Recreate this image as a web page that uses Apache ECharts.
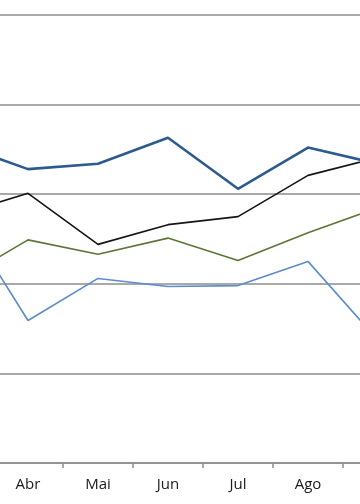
<!DOCTYPE html>
<html>
<head>
<meta charset="utf-8">
<script src="https://cdn.jsdelivr.net/npm/echarts@6/dist/echarts.min.js"></script>
<style>html,body{margin:0;padding:0;background:#fff;}#c{width:360px;height:504px;}</style>
</head>
<body>
<div id="c"></div>
<script>
var categories = ['Mar', 'Abr', 'Mai', 'Jun', 'Jul', 'Ago', 'Set'];
var seriesDarkBlue = [3.56, 3.28, 3.34, 3.63, 3.06, 3.52, 3.34];
var seriesBlack = [2.77, 3.01, 2.44, 2.66, 2.75, 3.21, 3.41];
var seriesGreen = [2.03, 2.49, 2.33, 2.51, 2.26, 2.57, 2.85];
var seriesLightBlue = [2.84, 1.59, 2.06, 1.97, 1.98, 2.25, 1.37];
var yMin = 0, yMax = 5, yInterval = 1;

var chart = echarts.init(document.getElementById('c'), null, {renderer: 'canvas'});
function mk(name, data, color, width) {
  return {name: name, type: 'line', data: data, symbol: 'none', smooth: false,
    lineStyle: {color: color, width: width}, itemStyle: {color: color}, animation: false};
}
chart.setOption({
  animation: false,
  grid: {left: -77, width: 490, top: 15, height: 448, containLabel: false, outerBoundsMode: 'none'},
  xAxis: {
    type: 'category', data: categories, boundaryGap: true,
    axisLine: {show: true, lineStyle: {color: '#8c8c8c', width: 1.5}},
    axisTick: {show: true, length: 5, lineStyle: {color: '#8c8c8c', width: 1.5}},
    axisLabel: {color: '#1a1a1a', fontSize: 15, fontFamily: 'Open Sans', margin: 14},
    splitLine: {show: false}
  },
  yAxis: {
    type: 'value', min: yMin, max: yMax, interval: yInterval,
    axisLine: {show: false}, axisTick: {show: false}, axisLabel: {show: false},
    splitLine: {show: true, lineStyle: {color: '#8c8c8c', width: 1.5}}
  },
  series: [
    mk('A', seriesLightBlue, '#5b8ccc', 1.6),
    mk('B', seriesGreen, '#5f7535', 1.6),
    mk('C', seriesBlack, '#151515', 1.6),
    mk('D', seriesDarkBlue, '#2d5b8f', 2.6)
  ]
});
</script>
</body>
</html>
